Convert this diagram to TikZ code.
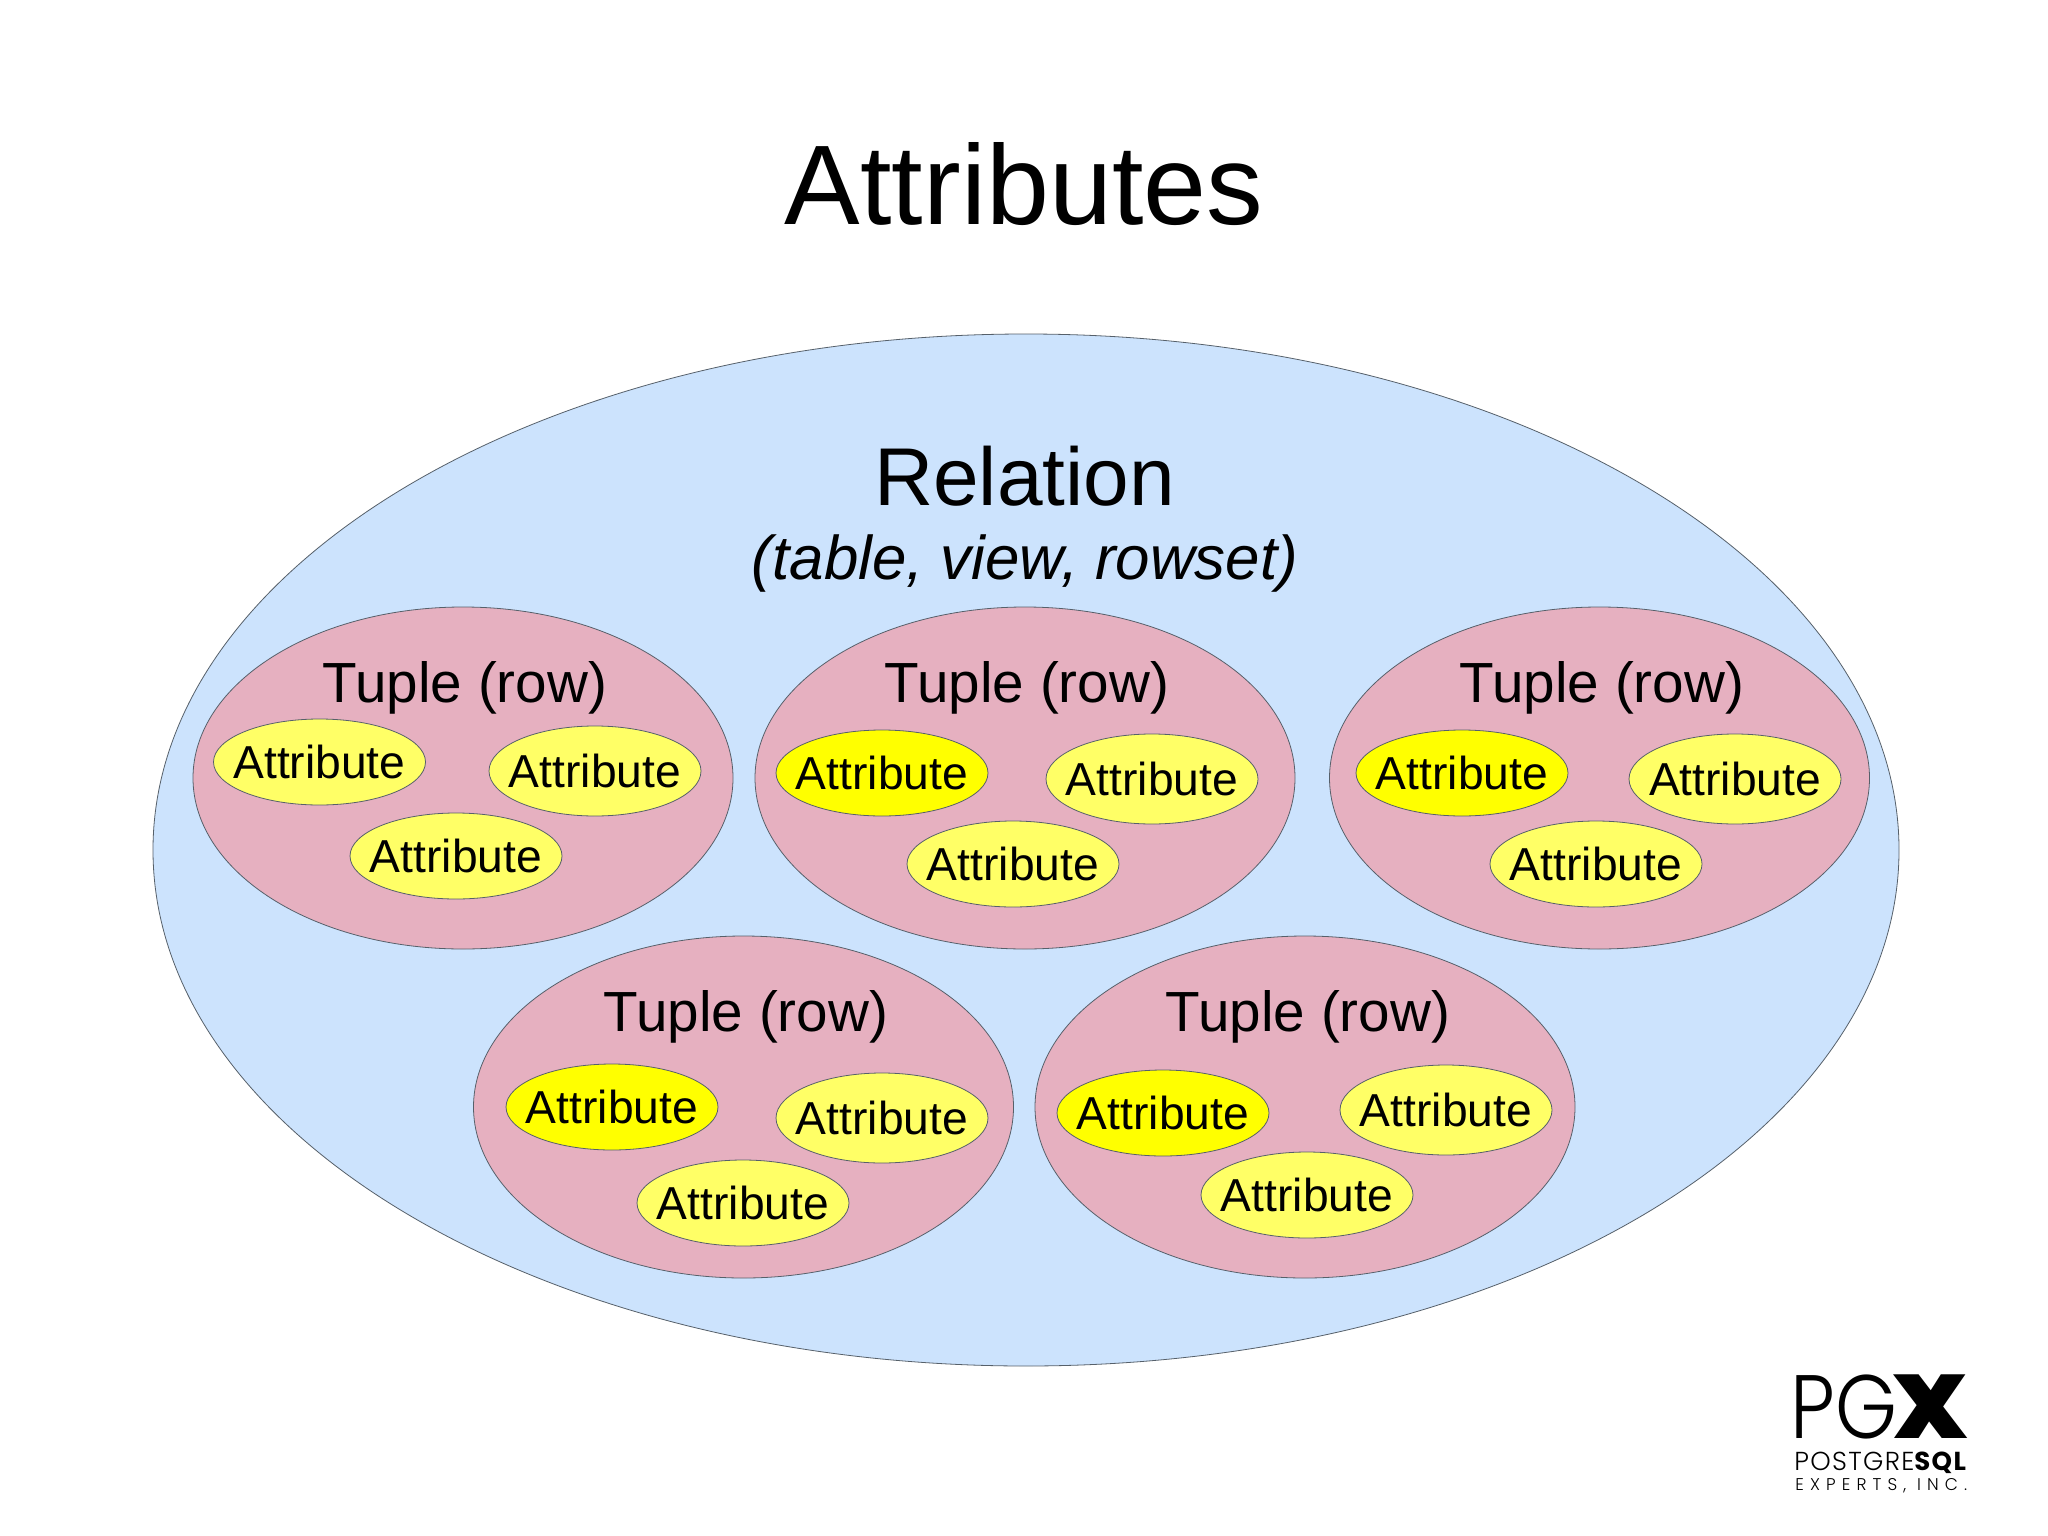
\documentclass[tikz,border=0pt]{standalone}
\usepackage{fontspec}
\setmainfont{Liberation Sans}
\newfontfamily\logolight{Poppins Light}
\newfontfamily\logoreg{Poppins}
\newfontfamily\logoblack{Poppins Black}
\usetikzlibrary{shapes.geometric}
\definecolor{relblue}{HTML}{CCE3FD}
\definecolor{tuplepink}{HTML}{E6B0C0}
\definecolor{attrpale}{HTML}{FFFF66}
\definecolor{attrbright}{HTML}{FFFF00}
\definecolor{edgegrey}{HTML}{56606A}
\tikzset{
  x=0.5pt,y=-0.5pt,
  relshape/.style={ellipse,draw=edgegrey,line width=0.4pt,fill=relblue,minimum width=873pt,minimum height=516pt,inner sep=0pt},
  tupleshape/.style={ellipse,draw=edgegrey,line width=0.4pt,fill=tuplepink,minimum width=270pt,minimum height=171pt,inner sep=0pt},
  attrshape/.style={ellipse,draw=edgegrey,line width=0.4pt,minimum width=106pt,minimum height=43pt,inner xsep=-6pt,inner ysep=0pt,font=\fontsize{23.1pt}{25pt}\selectfont},
  attrp/.style={attrshape,fill=attrpale},
  attrtall/.style={attrp,minimum height=45pt},
  attrb/.style={attrshape,fill=attrbright},
  tuplelabel/.style={anchor=base,inner sep=0pt,font=\fontsize{28.3pt}{30pt}\selectfont},
}
\begin{document}
\begin{tikzpicture}
\useasboundingbox (0,0) rectangle (2048,1535);
\fill[white] (0,0) rectangle (2048,1535);
\node[anchor=base,inner sep=0pt,font=\fontsize{56.6pt}{60pt}\selectfont] (title) at (1024,225) {Attributes};
\node[relshape] (rel) at (1026,850) {};
\node[anchor=base,inner sep=0pt,font=\fontsize{41pt}{44pt}\selectfont] (relname) at (1024.5,505) {Relation};
\node[anchor=base,inner sep=0pt,font=\fontsize{30.9pt}{34pt}\selectfont\itshape] (relsub) at (1025,579) {(table, view, rowset)};
% tuples
\node[tupleshape] (t1) at (463,778) {};
\node[tupleshape] (t2) at (1025,778) {};
\node[tupleshape] (t3) at (1599.5,778) {};
\node[tupleshape] (t4) at (743.5,1107) {};
\node[tupleshape] (t5) at (1305,1107) {};
\node[tuplelabel] (l1) at (465,702) {Tuple (row)};
\node[tuplelabel] (l2) at (1027,702) {Tuple (row)};
\node[tuplelabel] (l3) at (1602,702) {Tuple (row)};
\node[tuplelabel] (l4) at (746,1031) {Tuple (row)};
\node[tuplelabel] (l5) at (1308,1031) {Tuple (row)};
% attributes
\node[attrp] (a11) at (319.5,762) {Attribute};
\node[attrtall] (a12) at (595,771) {Attribute};
\node[attrp] (a13) at (456,856) {Attribute};
\node[attrb] (a21) at (882,773) {Attribute};
\node[attrtall] (a22) at (1152,779) {Attribute};
\node[attrp] (a23) at (1013,864) {Attribute};
\node[attrb] (a31) at (1462,773) {Attribute};
\node[attrtall] (a32) at (1735,779) {Attribute};
\node[attrp] (a33) at (1596,864) {Attribute};
\node[attrb] (a41) at (612,1107) {Attribute};
\node[attrtall] (a42) at (882,1118) {Attribute};
\node[attrp] (a43) at (743,1203) {Attribute};
\node[attrb] (a51) at (1163,1113) {Attribute};
\node[attrtall] (a52) at (1446,1110) {Attribute};
\node[attrp] (a53) at (1307,1195) {Attribute};
% logo
\node[anchor=base west,inner sep=0pt,font=\fontsize{45pt}{48pt}\logolight\selectfont] (pg) at (1790,1438) {\scalebox{0.88}[1]{PG}};
\node[anchor=base east,inner sep=0pt,font=\fontsize{45pt}{48pt}\logoblack\selectfont] (x) at (1968,1438) {\scalebox{1.08}[1]{X}};
\node[anchor=base west,inner sep=0pt,font=\fontsize{13pt}{14pt}\logolight\selectfont] (pgname) at (1794,1470) {\addfontfeature{LetterSpace=5}POSTGRE{\logoreg\bfseries\addfontfeature{LetterSpace=5}SQL}};
\node[anchor=base west,inner sep=0pt,font=\fontsize{8.5pt}{10pt}\logolight\selectfont] (pginc) at (1795,1490) {\addfontfeature{LetterSpace=36}EXPERTS, INC.};
\end{tikzpicture}
\end{document}
